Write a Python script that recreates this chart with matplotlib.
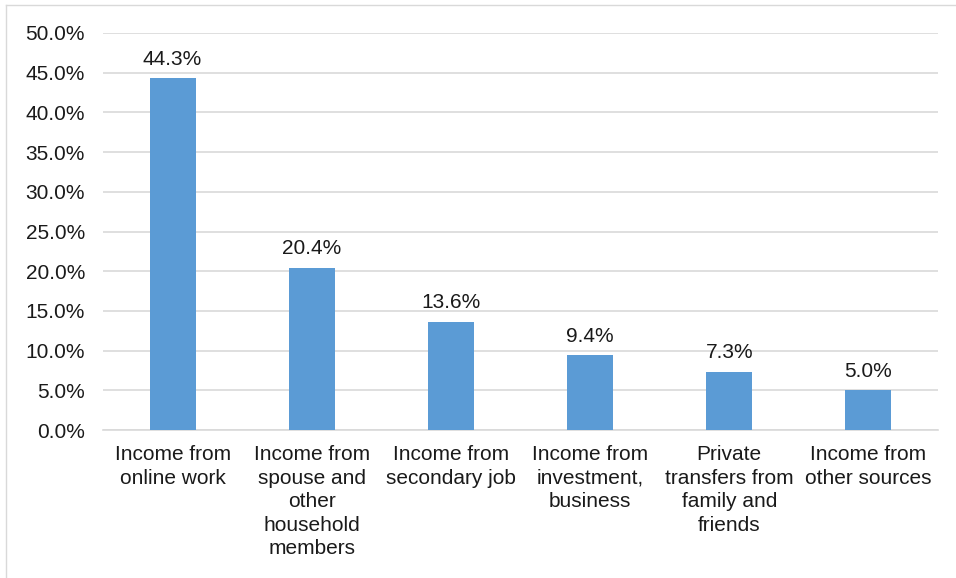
import matplotlib.pyplot as plt
from matplotlib.ticker import FuncFormatter
from matplotlib.lines import Line2D

plt.rcParams['font.family'] = ['Liberation Sans', 'DejaVu Sans']

categories = ['Income from\nonline work',
              'Income from\nspouse and\nother\nhousehold\nmembers',
              'Income from\nsecondary job',
              'Income from\ninvestment,\nbusiness',
              'Private\ntransfers from\nfamily and\nfriends',
              'Income from\nother sources']
shares = [44.3, 20.4, 13.6, 9.4, 7.3, 5.0]

fig = plt.figure(figsize=(9.56, 5.78), dpi=100)
ax = fig.add_axes([103/956, 1 - 430/578, 835/956, 397/578])

x = range(len(categories))
bars = ax.bar(x, shares, width=0.33, color='#5B9BD5', zorder=3)
for b, v in zip(bars, shares):
    ax.annotate(f'{v:.1f}%', (b.get_x() + b.get_width() / 2, v),
                xytext=(0, 7), textcoords='offset points',
                ha='center', va='bottom', fontsize=15, color='#1a1a1a')

ax.set_xlim(-0.5, len(categories) - 0.5)
ax.set_ylim(0, 50)
ax.set_yticks(range(0, 51, 5))
ax.yaxis.set_major_formatter(FuncFormatter(lambda v, p: f'{v:.1f}%'))
ax.set_xticks(list(x))
ax.set_xticklabels(categories, fontsize=15, linespacing=1.3, color='#1a1a1a')
ax.tick_params(axis='y', labelsize=15, length=0, pad=13, labelcolor='#1a1a1a')
ax.tick_params(axis='x', length=0, pad=11)
ax.grid(axis='y', color='#D9D9D9', linewidth=1.2, zorder=0)
for s in ['top', 'right', 'left']:
    ax.spines[s].set_visible(False)
ax.spines['bottom'].set_color('#D9D9D9')
ax.spines['bottom'].set_linewidth(1.2)

# light frame around the chart area
fig.add_artist(Line2D([6/956, 1], [1 - 5/578, 1 - 5/578], color='#D9D9D9', lw=1))
fig.add_artist(Line2D([6/956, 6/956], [0, 1 - 5/578], color='#D9D9D9', lw=1))

fig.savefig('out.png', dpi=100)
